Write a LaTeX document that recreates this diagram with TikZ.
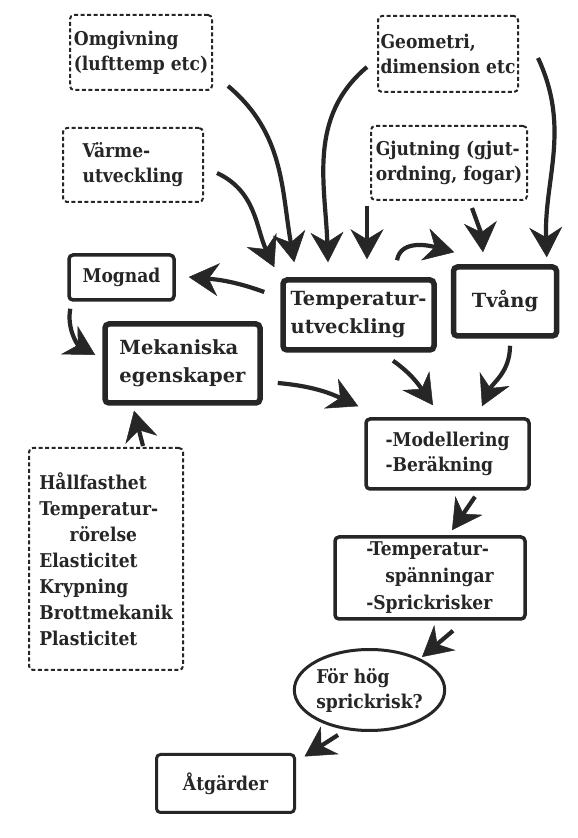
\documentclass[tikz,border=0pt]{standalone}
\usepackage{fontspec}
\setmainfont{DejaVu Serif Condensed}[BoldFont={DejaVu Serif Condensed Bold}]
\newfontfamily\heavy{DejaVu Serif Bold}
\usetikzlibrary{arrows.meta,shapes.geometric,calc}
\definecolor{ink}{RGB}{38,38,38}
\tikzset{
  base/.style={text=ink, font=\bfseries\fontsize{19}{25}\selectfont, align=left, inner sep=0pt},
  dbox/.style={base, draw=ink, line width=2pt, dash pattern=on 4pt off 2.5pt, rounded corners=4pt},
  tbox/.style={base, draw=ink, line width=5.5pt, rounded corners=4pt, font=\heavy\fontsize{19.5}{28}\selectfont},
  mbox/.style={base, draw=ink, line width=3.5pt, rounded corners=4pt},
  lbox/.style={base, draw=ink, line width=3pt, rounded corners=4pt},
  arr/.style={draw=ink, line width=4.2pt, -{Stealth[length=30pt,width=33pt,inset=10pt,line width=0.5pt]}},
}
\begin{document}
\begin{tikzpicture}[x=1pt,y=1pt]
\fill[white] (0,0) rectangle (578,838);
\useasboundingbox (0,0) rectangle (578,838);

\node[dbox, minimum width=142, minimum height=75] (omg) at (141,785.5) {Omgivning\\(lufttemp etc)};
\node[dbox, minimum width=140, minimum height=76] (geo) at (448,784) {Geometri,\\dimension etc};
\node[dbox, minimum width=140, minimum height=74] (varme) at (133,673) {Värme-\\utveckling};
\node[dbox, minimum width=156, minimum height=74] (gjut) at (449,675) {Gjutning (gjut-\\ordning, fogar)};
\node[mbox, minimum width=105, minimum height=45] (mognad) at (121.5,560.5) {Mognad};
\node[tbox, minimum width=151, minimum height=70] (temp) at (358.5,523) {Temperatur-\\utveckling};
\node[tbox, minimum width=103, minimum height=69] (tvang) at (505,536.5) {Tvång};
\node[tbox, minimum width=155, minimum height=79] (mek) at (182.5,474.5) {Mekaniska\\egenskaper};
\node[mbox, minimum width=163, minimum height=70] (model) at (447.5,384) {-Modellering\\-Beräkning};
\node[dbox, minimum width=154, minimum height=222, font=\bfseries\fontsize{19}{26}\selectfont] (hall) at (106,279)
  {Hållfasthet\\Temperatur-\\\hspace*{1.6em}rörelse\\Elasticitet\\Krypning\\Brottmekanik\\Plasticitet};
\node[mbox, minimum width=190, minimum height=82, font=\bfseries\fontsize{19}{27}\selectfont] (tsp) at (430,260)
  {-Temperatur-\\\hspace*{1em}spänningar\\-Sprickrisker};
\node[base, ellipse, draw=ink, line width=3pt, minimum width=146, minimum height=81] (ell) at (369.5,148) {För hög\\sprickrisk?};
\node[lbox, minimum width=138, minimum height=58] (atg) at (225.5,54.5) {Åtgärder};

% arrows into Temperaturutveckling
\draw[arr] ($(varme.east)+(13,-8)$) to[out=-25,in=115] ($(temp.north west)+(-6,10)$);
\draw[arr] ($(omg.south east)+(15,5)$) to[out=-40,in=100] ($(temp.north west)+(14,15)$);
\draw[arr] ($(geo.west)+(-10,-13)$) to[out=220,in=92] ($(temp.north)+(-30.5,15)$);
\draw[arr] ($(gjut.south west)+(-3,-5)$) -- ($(temp.north)+(8.5,18)$);
% arrows into Tvang
\draw[arr] ($(temp.north)+(38.5,17)$) to[out=80,in=165] ($(tvang.north west)+(3.5,12)$);
\draw[arr] ($(gjut.south)+(23,-7)$) to[out=-70,in=95] ($(tvang.north)+(-22,12)$);
\draw[arr] ($(geo.east)+(19,-4)$) to[out=-65,in=92] ($(tvang.north east)+(-12.5,7)$);
% Mognad / Mekaniska
\draw[arr] ($(temp.west)+(-16,23)$) to[out=160,in=-5] ($(mognad.east)+(13,0.5)$);
\draw[arr] ($(mognad.south west)+(3,-7)$) to[out=-100,in=150] ($(mek.west)+(-7,8.5)$);
\draw[arr] ($(hall.north)+(37,1)$) -- ($(mek.south)+(-48.5,-5)$);
% into Modellering
\draw[arr] ($(mek.east)+(15,-19.5)$) to[out=-5,in=155] ($(model.north west)+(-6,11)$);
\draw[arr] ($(temp.south)+(34.5,-8)$) to[out=-35,in=125] ($(model.north)+(-14.5,12)$);
\draw[arr] ($(tvang.south)+(5,-7)$) to[out=-90,in=65] ($(model.north)+(34.5,11)$);
% chain downwards
\draw[arr] ($(model.south)+(27.5,-6)$) -- ($(tsp.north)+(22,5)$);
\draw[arr] ($(tsp.south)+(23,-10)$) -- ($(ell.center)+(52.5,33)$);
\draw[arr] ($(ell.center)+(-31.5,-45)$) -- ($(atg.north east)+(8.5,-3.5)$);
\end{tikzpicture}
\end{document}
